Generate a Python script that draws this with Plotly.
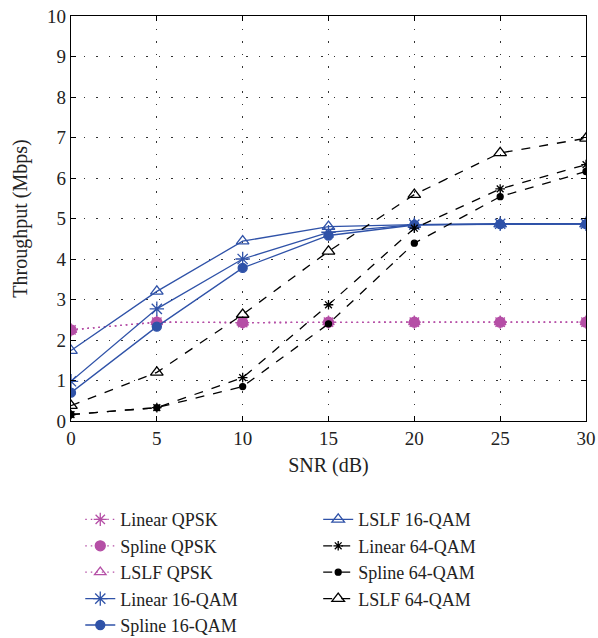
import plotly.graph_objects as go

snr = [0, 5, 10, 15, 20, 25, 30]

linear_qpsk = [2.25, 2.44, 2.43, 2.44, 2.44, 2.44, 2.44]
spline_qpsk = [2.25, 2.44, 2.43, 2.44, 2.44, 2.44, 2.44]
lslf_qpsk = [2.25, 2.44, 2.43, 2.44, 2.44, 2.44, 2.44]

linear_16qam = [0.98, 2.77, 4.00, 4.66, 4.85, 4.87, 4.87]
spline_16qam = [0.70, 2.33, 3.78, 4.58, 4.84, 4.86, 4.86]
lslf_16qam = [1.74, 3.20, 4.44, 4.80, 4.85, 4.86, 4.86]

linear_64qam = [0.16, 0.33, 1.07, 2.87, 4.76, 5.73, 6.33]
spline_64qam = [0.16, 0.33, 0.85, 2.40, 4.39, 5.54, 6.16]
lslf_64qam = [0.38, 1.20, 2.63, 4.19, 5.59, 6.62, 6.98]

PINK = "#b54fa6"
BLUE = "#2f52a8"
BLACK = "#000000"
FONT = "Liberation Serif"

series = [
    ("Linear QPSK", linear_qpsk, PINK, "1.5px,4px", "asterisk-open", 11, "legend"),
    ("Spline QPSK", spline_qpsk, PINK, "1.5px,4px", "circle", 10, "legend"),
    ("LSLF QPSK", lslf_qpsk, PINK, "1.5px,4px", "triangle-up-open", 10, "legend"),
    ("Linear 16-QAM", linear_16qam, BLUE, "solid", "asterisk-open", 12, "legend"),
    ("Spline 16-QAM", spline_16qam, BLUE, "solid", "circle", 9, "legend"),
    ("LSLF 16-QAM", lslf_16qam, BLUE, "solid", "triangle-up-open", 11, "legend2"),
    ("Linear 64-QAM", linear_64qam, BLACK, "dash", "asterisk-open", 8, "legend2"),
    ("Spline 64-QAM", spline_64qam, BLACK, "dash", "circle", 6, "legend2"),
    ("LSLF 64-QAM", lslf_64qam, BLACK, "dash", "triangle-up-open", 11, "legend2"),
]

fig = go.Figure()
for name, vals, col, dash, sym, size, leg in series:
    fig.add_trace(go.Scatter(
        x=snr, y=vals, name=name, mode="lines+markers",
        line=dict(color=col, width=1.3, dash=dash),
        marker=dict(symbol=sym, size=size, color=col,
                    line=dict(color=col, width=1.3)),
        legend=leg,
    ))

axis_common = dict(
    showline=True, linecolor="black", linewidth=1.3, mirror="ticks",
    ticks="inside", ticklen=5, tickcolor="black",
    showgrid=True, gridcolor="#333333", gridwidth=1, griddash="1.5px,11px",
    zeroline=False,
    tickfont=dict(family=FONT, size=19, color="#222222"),
)

LEGFONT = dict(family=FONT, size=18)

fig.update_layout(
    width=598, height=638,
    margin=dict(l=71, r=12, t=16, b=217, autoexpand=False),
    plot_bgcolor="white", paper_bgcolor="white",
    font=dict(family=FONT, size=19, color="#222222"),
    xaxis=dict(range=[0, 30], tickvals=[0, 5, 10, 15, 20, 25, 30],
               title=dict(text="SNR (dB)", font=dict(family=FONT, size=20), standoff=10),
               **axis_common),
    yaxis=dict(range=[0, 10], tickvals=list(range(0, 11)),
               title=dict(text="Throughput (Mbps)", font=dict(family=FONT, size=20), standoff=14),
               **axis_common),
    legend=dict(x=0.018, y=-0.198, xanchor="left", yanchor="top",
                bgcolor="rgba(0,0,0,0)", font=LEGFONT,
                tracegroupgap=0, itemwidth=30),
    legend2=dict(x=0.48, y=-0.198, xanchor="left", yanchor="top",
                 bgcolor="rgba(0,0,0,0)", font=LEGFONT,
                 tracegroupgap=0, itemwidth=30),
)

fig.write_html("out.html")
